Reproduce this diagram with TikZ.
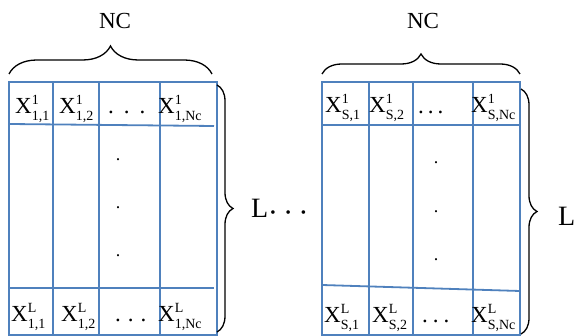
\documentclass[tikz,border=0pt]{standalone}
\usepackage{fontspec}
\setmainfont{Liberation Serif}
\usetikzlibrary{decorations.pathreplacing}
\definecolor{gridblue}{RGB}{79,129,189}
\newcommand\scr[1]{\mbox{\fontsize{14}{14}\selectfont #1}}
\newcommand\cx[2]{X$^{\scr{#1}}_{\scr{#2}}$}
\newcommand\hd[1]{.\hspace{#1}.\hspace{#1}.}
\begin{document}
\begin{tikzpicture}[x=1pt,y=-1pt,
  gridline/.style={draw=gridblue,line width=1.8pt},
  cell/.style={inner sep=0pt,anchor=base west,font=\fontsize{23}{26}\selectfont},
  lab/.style={inner sep=0pt,anchor=base,font=\fontsize{23}{26}\selectfont},
  biglab/.style={inner sep=0pt,anchor=base west,font=\fontsize{28}{30}\selectfont},
  bracel/.style={draw=black,line width=1.3pt,decorate,decoration={brace,amplitude=#1}},
  vdot/.style={inner sep=0pt,font=\fontsize{18}{18}\selectfont}]
\useasboundingbox (0,0) rectangle (579,336);
% ---------- left grid ----------
\draw[gridline] (9,82) rectangle (217,335);
\draw[gridline] (53,82) -- (53,335);
\draw[gridline] (99,82) -- (99,335);
\draw[gridline] (160,82) -- (160,335);
\draw[gridline] (9,124) -- (214,126);
\draw[gridline] (9,288) -- (214,288);
% ---------- right grid ----------
\draw[gridline] (322,82) rectangle (520,335);
\draw[gridline] (369,82) -- (369,335);
\draw[gridline] (413,82) -- (413,335);
\draw[gridline] (473,82) -- (473,335);
\draw[gridline] (322,125) -- (520,125);
\draw[gridline] (322,285) -- (520,291);
% ---------- left cells ----------
\node[cell] (a11) at (15,114) {\cx{1}{1,1}};
\node[cell] (a12) at (59,114) {\cx{1}{1,2}};
\node[cell] (a1d) at (108,114) {\hd{10pt}};
\node[cell] (a1n) at (158,114) {\cx{1}{1,Nc}};
\node[cell] (aL1) at (11,322) {\cx{L}{1,1}};
\node[cell] (aL2) at (61,322) {\cx{L}{1,2}};
\node[cell] (aLd) at (115,322) {\hd{7pt}};
\node[cell] (aLn) at (158,322) {\cx{L}{1,Nc}};
\node[vdot] (av1) at (118,160) {.};
\node[vdot] (av2) at (118,208) {.};
\node[vdot] (av3) at (118,256) {.};
% ---------- right cells ----------
\node[cell] (b11) at (325,113) {\cx{1}{S,1}};
\node[cell] (b12) at (369,113) {\cx{1}{S,2}};
\node[cell] (b1d) at (418,114) {\hd{4pt}};
\node[cell] (b1n) at (471,113) {\cx{1}{S,Nc}};
\node[cell] (bL1) at (324,323) {\cx{L}{S,1}};
\node[cell] (bL2) at (372,323) {\cx{L}{S,2}};
\node[cell] (bLd) at (422,323) {\hd{5pt}};
\node[cell] (bLn) at (471,323) {\cx{L}{S,Nc}};
\node[vdot] (bv1) at (436,163) {.};
\node[vdot] (bv2) at (436,212) {.};
\node[vdot] (bv3) at (436,260) {.};
% ---------- braces ----------
\draw[bracel=28pt] (9,74) -- (212,74);
\draw[bracel=20pt] (322,74) -- (520,74);
\draw[bracel=16pt] (217,85) -- (217,332);
\draw[bracel=16pt] (521,89) -- (521,334);
% ---------- labels ----------
\node[lab] (nc1) at (115,29) {NC};
\node[lab] (nc2) at (423,29) {NC};
\node[biglab] (l1) at (251,218) {L\hspace{2pt}{\fontsize{15}{15}\selectfont\textbullet\hspace{10pt}\textbullet\hspace{10pt}\textbullet}};
\node[biglab] (l2) at (558,226) {L};
\end{tikzpicture}
\end{document}
